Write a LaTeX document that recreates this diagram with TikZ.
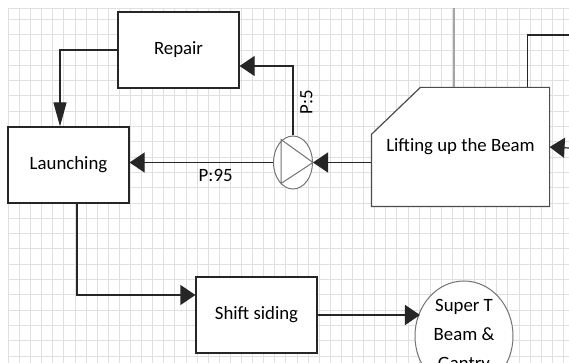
\documentclass[tikz,border=0pt]{standalone}
\usepackage{fontspec}
\setmainfont{Carlito}
\usetikzlibrary{arrows.meta, positioning, shapes.geometric, calc, backgrounds}

\begin{document}
\begin{tikzpicture}[
    x=0.5pt, y=-0.5pt,
    font=\fontsize{9.4}{14.5}\selectfont,
    box/.style={draw=black!85, line width=0.6pt, fill=white,
                minimum width=60.5pt, minimum height=38pt, inner sep=0pt},
    conn/.style={draw=black!85, line width=0.6pt},
    flow/.style={conn, -{Triangle[length=7.5pt, width=10pt]}},
    drop/.style={conn, -{Triangle[length=12pt, width=6.5pt]}},
    gridline/.style={draw=black!12, line width=0.4pt},
    pumpline/.style={draw=black!55, line width=0.5pt},
    >=Stealth
  ]
  \useasboundingbox (0,0) rectangle (569,363);

  % Grid paper
  \begin{scope}[on background layer]
    \fill[white] (0,0) rectangle (569,363);
    \foreach \k in {0,...,50}
      \draw[gridline] ({8.3+11.1*\k},8) -- ({8.3+11.1*\k},363);
    \draw[gridline] (8,8) -- (569,8);
    \foreach \k in {0,...,22}
      \draw[gridline] (8,{19.4+15.3*\k}) -- (569,{19.4+15.3*\k});
  \end{scope}

  % Process boxes
  \node[box] (repair) at (178.5,50) {Repair};
  \node[box] (launch) at (68.5,165) {Launching};
  \node[box] (shift) at (256.5,315) {Shift siding};
  \node[box, draw=none, fill=none, minimum width=88.5pt, minimum height=59pt]
    (lift) at (460.5,147) {Lifting up the Beam};
  \begin{scope}[on background layer]
    \draw[draw=black!70, line width=0.6pt, fill=white]
      ($(lift.north west)+(0,47)$) -- ($(lift.north west)+(49,0)$)
      -- (lift.north east) -- (lift.south east) -- (lift.south west) -- cycle;
  \end{scope}

  % Decision (pump) and end event
  \node[ellipse, draw=black!55, line width=0.5pt, fill=white, inner sep=0pt,
        minimum width=19.5pt, minimum height=26.5pt] (pump) at (293,162.5) {};
  \draw[pumpline] ($(pump.center)+(-12,-23)$) -- ($(pump.center)+(-12,21)$)
    -- (pump.east) -- cycle;
  \node[ellipse, draw=black!55, line width=0.5pt, fill=white, inner sep=0pt,
        minimum width=49pt, minimum height=55pt, align=center]
    (super) at (464,336) {Super T\\Beam \&\\Gantry};

  % Open ends
  \coordinate (topin) at (454,8);
  \coordinate (rightin) at (569,35);
  \coordinate (liftin) at (569,148);

  % Connectors
  \draw[conn, draw=black!35, line width=1pt] (topin) -- (topin |- lift.north);
  \draw[conn] (rightin) -| ($(lift.north east)+(-22,0)$);
  \draw[flow] (liftin) -- (lift.east);
  \draw[flow] (pump.east -| lift.west) -- (pump.east);
  \draw[flow] (pump.west) -- (pump.west -| launch.east)
    node[pos=0.4, below=0pt] {P:95};
  \draw[flow] (pump.north) |- ([yshift=-8pt]repair.east)
    node[pos=0.24, rotate=90, anchor=north] {P:5};
  \draw[drop] (repair.west) -| ([xshift=-4.25pt]launch.north);
  \draw[flow] ([xshift=4.25pt]launch.south) |- ([yshift=10pt]shift.west);
  \draw[flow] (shift.east) -- (shift.east -| super.150);
\end{tikzpicture}
\end{document}
